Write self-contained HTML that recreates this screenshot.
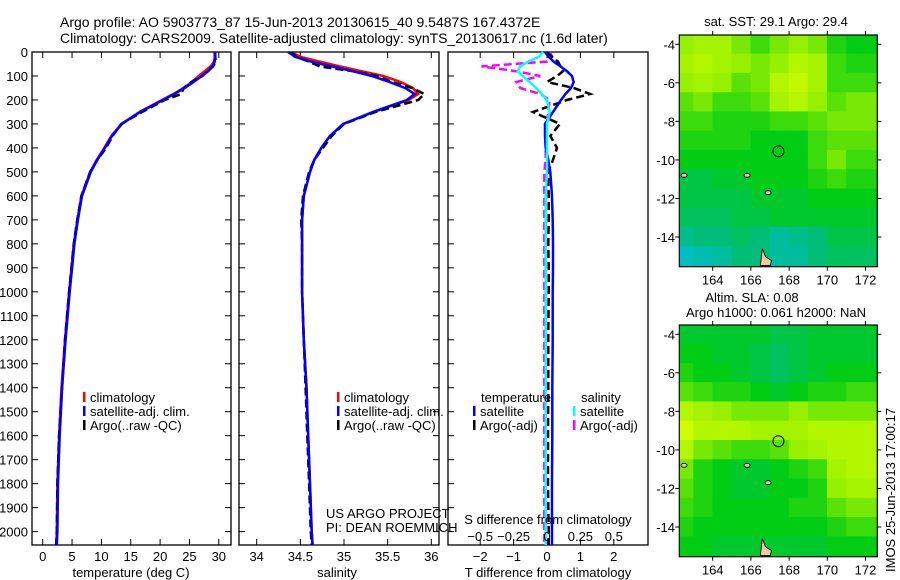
<!DOCTYPE html>
<html><head><meta charset="utf-8">
<style>
html,body{margin:0;padding:0;background:#fff;}
svg{display:block;font-family:"Liberation Sans",sans-serif;}
text{font-size:13px;fill:#000;}
</style></head>
<body>
<svg id="chart" width="900" height="580" viewBox="0 0 900 580" xmlns="http://www.w3.org/2000/svg">
<text x="60" y="27" style="font-size:14px">Argo profile: AO 5903773_87 15-Jun-2013 20130615_40 9.5487S 167.4372E</text>
<text x="60" y="43" style="font-size:14px">Climatology: CARS2009. Satellite-adjusted climatology: synTS_20130617.nc (1.6d later)</text>
<g id="g"></g>
</svg>
<script>
// ---------- profile data ----------
const depths = [0,20,40,60,80,100,125,150,175,200,250,300,350,400,450,500,600,700,800,900,1000,1200,1400,1600,1800,2000,2056];
const tempClim = [29.3,29.3,29.2,28.6,27.6,26.6,25.4,24.0,22.3,20.3,16.5,13.4,11.7,10.5,9.2,8.1,6.6,5.9,5.3,4.9,4.5,3.8,3.2,2.8,2.5,2.4,2.3];
const tempSat  = [29.4,29.4,29.3,29.0,28.2,27.1,25.7,24.2,22.4,20.5,16.6,13.5,11.8,10.6,9.3,8.2,6.7,6.0,5.4,5.0,4.6,3.9,3.3,2.9,2.6,2.5,2.4];
const tempArgo = [29.3,29.4,29.5,29.0,28.0,27.2,25.3,24.0,23.6,20.8,16.9,13.4,11.9,10.8,9.3,8.1,6.6,5.9,5.3,4.9,4.5,3.8,3.3,2.8,2.5,2.4,2.3];
const salClim = [34.39,34.50,34.72,34.95,35.20,35.45,35.65,35.79,35.85,35.74,35.34,35.00,34.84,34.74,34.66,34.61,34.54,34.52,34.52,34.52,34.52,34.54,34.57,34.59,34.61,34.63,34.64];
const salSat  = [34.36,34.44,34.62,34.86,35.10,35.32,35.52,35.70,35.81,35.72,35.33,34.99,34.84,34.74,34.66,34.61,34.54,34.52,34.52,34.52,34.52,34.54,34.57,34.59,34.61,34.63,34.64];
const salArgo = [34.40,34.45,34.60,34.72,35.10,35.38,35.55,35.78,35.92,35.85,35.36,35.00,34.86,34.76,34.66,34.60,34.53,34.51,34.52,34.52,34.52,34.54,34.56,34.58,34.60,34.62,34.63];
const tDiffSat  = [-0.06,0.05,0.2,0.4,0.6,0.75,0.8,0.72,0.55,0.42,0.18,-0.06,-0.06,-0.04,0.04,0.1,0.15,0.17,0.18,0.18,0.17,0.17,0.16,0.16,0.15,0.15,0.15];
const tDiffArgo = [0.0,0.15,0.33,0.4,0.48,0.3,0.0,0.8,1.29,0.6,-0.42,0.39,0.1,0.3,0.18,0.03,0.05,0.05,0.04,0.05,0.05,0.04,0.04,0.03,0.03,0.05,0.05];
const sDiffSat  = [-0.03,-0.06,-0.14,-0.2,-0.22,-0.18,-0.13,-0.08,-0.04,0.0,0.02,0.0,0.0,0.0,0.0,0.0,-0.01,-0.01,-0.01,-0.01,-0.01,-0.01,-0.01,-0.01,-0.01,-0.01,-0.01];
const sDiffArgo = [0.02,0.04,0.0,-0.49,-0.23,-0.05,-0.23,-0.2,-0.05,0.02,0.01,0.0,-0.01,-0.01,-0.01,-0.02,-0.02,-0.02,-0.02,-0.02,-0.02,-0.02,-0.02,-0.02,-0.02,-0.02,-0.02];
const depthTicks = [0,100,200,300,400,500,600,700,800,900,1000,1100,1200,1300,1400,1500,1600,1700,1800,1900,2000];
const tempTicks = [0,5,10,15,20,25,30];
const salTicks = [34,34.5,35,35.5,36];
const salTickLabels = ["34","34.5","35","35.5","36"];
const tdTicks = [-2,-1,0,1,2];
const sdTicks = [-0.5,-0.25,0,0.25,0.5];
const sdTickLabels = ["\u22120.5","\u22120.25","0","0.25","0.5"];
const tdTickLabels = ["\u22122","\u22121","0","1","2"];
// ---------- map data (rows: lat -4..-15, cols: lon 162.5..172.5) ----------
const mapLats = [-4,-5,-6,-7,-8,-9,-10,-11,-12,-13,-14,-15];
const mapLons = [162.5,163.5,164.5,165.5,166.5,167.5,168.5,169.5,170.5,171.5,172.5];
const sstGrid = [
[.75,.8,.8,.7,.6,.7,.75,.7,.55,.5,.5],
[.8,.85,.8,.75,.7,.75,.85,.8,.6,.55,.55],
[.75,.8,.75,.65,.7,.85,.9,.8,.6,.6,.6],
[.65,.7,.6,.6,.65,.8,.85,.75,.65,.7,.7],
[.6,.6,.55,.55,.55,.6,.6,.65,.7,.7,.7],
[.55,.55,.55,.55,.5,.5,.5,.6,.65,.65,.65],
[.5,.5,.5,.5,.5,.5,.5,.6,.7,.6,.6],
[.4,.4,.45,.45,.5,.5,.5,.55,.6,.55,.55],
[.4,.4,.4,.4,.45,.45,.45,.5,.5,.5,.5],
[.35,.35,.35,.4,.4,.45,.45,.45,.45,.45,.45],
[.25,.3,.3,.35,.3,.2,.25,.3,.4,.4,.4],
[.1,.15,.2,.3,.3,.2,.2,.3,.35,.35,.35]];
const slaGrid = [
[.45,.45,.45,.45,.45,.4,.4,.45,.45,.45,.45],
[.5,.5,.45,.45,.4,.35,.4,.45,.45,.45,.45],
[.55,.5,.5,.45,.4,.35,.4,.45,.5,.5,.5],
[.65,.6,.55,.55,.5,.45,.5,.55,.55,.6,.6],
[.85,.8,.75,.7,.7,.7,.75,.7,.7,.7,.7],
[.95,.85,.85,.85,.8,.8,.8,.85,.85,.85,.85],
[.85,.7,.65,.6,.6,.65,.75,.8,.85,.85,.85],
[.7,.55,.5,.45,.45,.5,.55,.6,.8,.85,.85],
[.65,.55,.5,.45,.45,.5,.5,.55,.75,.8,.8],
[.6,.55,.5,.5,.5,.5,.55,.55,.65,.7,.7],
[.55,.5,.5,.5,.5,.5,.5,.5,.55,.6,.6],
[.5,.5,.45,.45,.45,.45,.45,.45,.5,.5,.5]];
const latTicks = [-4,-6,-8,-10,-12,-14];
const lonTicks = [164,166,168,170,172];
const argoLon = 167.44, argoLat = -9.55;

const NS="http://www.w3.org/2000/svg";
const G=document.getElementById('g');
function mk(tag,attrs,parent){const e=document.createElementNS(NS,tag);for(const k in attrs)e.setAttribute(k,attrs[k]);(parent||G).appendChild(e);return e;}
function txt(x,y,s,anchor,parent,size){const t=mk('text',{x:x,y:y,'text-anchor':anchor||'start'},parent);if(size)t.style.fontSize=size+'px';t.textContent=s;return t;}

const yD = d => 52 + d*0.2398;
const PB = 545;
const xT = v => 42.7 + v*5.87;
const xS = v => 256.7 + (v-34)*87.3;
const xTD = v => 547 + v*33.4;
const xSD = v => 547 + v*133.6;

function panel(name,x0,x1){
  const g=mk('g',{});
  
  
  const r=mk('rect',{x:x0,y:52,width:x1-x0,height:PB-52,fill:'none',stroke:'#000','stroke-width':1.3},g);
  
  
  return g;
}
function line(parent,xs,vals,fx,color,dash,name){
  let d='';vals.forEach((v,i)=>{d+=(i?'L':'M')+fx(v).toFixed(1)+','+yD(xs[i]).toFixed(1);});
  const p=mk('path',{d:d,fill:'none',stroke:color,'stroke-width':2.5},parent);
  if(dash)p.setAttribute('stroke-dasharray',dash);
  
  
}
function legend(parent,x,y,color,label,name){
  const r=mk('rect',{x:x,y:y-10,width:2.5,height:10,fill:color},parent);
  
  
  const t=txt(x+7,y,label,'start',parent);
  
  
}

const p1=panel('temperature-panel',32,231);
depthTicks.forEach(d=>{
  mk('line',{x1:32,x2:38,y1:yD(d),y2:yD(d),stroke:'#000'},p1);
  mk('line',{x1:225,x2:231,y1:yD(d),y2:yD(d),stroke:'#000'},p1);
  const t=txt(28,yD(d)+5,String(d),'end',p1);
  
  
});
tempTicks.forEach(v=>{
  mk('line',{x1:xT(v),x2:xT(v),y1:PB,y2:PB-6,stroke:'#000'},p1);
  mk('line',{x1:xT(v),x2:xT(v),y1:52,y2:58,stroke:'#000'},p1);
  const t=txt(xT(v),561,String(v),'middle',p1);
  
  
});
let t1=txt(131,577,'temperature (deg C)','middle',p1);


line(p1,depths,tempClim,xT,'#ff0000',null,'temperature-climatology-line');
line(p1,depths,tempArgo,xT,'#000000','8 4','temperature-argo-line');
line(p1,depths,tempSat,xT,'#0000ff',null,'temperature-satellite-line');
legend(p1,83,402,'#ff0000','climatology','legend-climatology');
legend(p1,83,416,'#0000ff','satellite-adj. clim.','legend-satellite');
legend(p1,83,430,'#000000','Argo(..raw -QC)','legend-argo');

const p2=panel('salinity-panel',239,439);
depthTicks.forEach(d=>{
  mk('line',{x1:239,x2:245,y1:yD(d),y2:yD(d),stroke:'#000'},p2);
  mk('line',{x1:433,x2:439,y1:yD(d),y2:yD(d),stroke:'#000'},p2);
});
salTicks.forEach((v,i)=>{
  mk('line',{x1:xS(v),x2:xS(v),y1:PB,y2:PB-6,stroke:'#000'},p2);
  mk('line',{x1:xS(v),x2:xS(v),y1:52,y2:58,stroke:'#000'},p2);
  const t=txt(xS(v),561,salTickLabels[i],'middle',p2);
  
  
});
let t2=txt(337,577,'salinity','middle',p2);


line(p2,depths,salClim,xS,'#ff0000',null,'salinity-climatology-line');
line(p2,depths,salArgo,xS,'#000000','8 4','salinity-argo-line');
line(p2,depths,salSat,xS,'#0000ff',null,'salinity-satellite-line');
legend(p2,337,402,'#ff0000','climatology','legend-climatology-2');
legend(p2,337,416,'#0000ff','satellite-adj. clim.','legend-satellite-2');
legend(p2,337,430,'#000000','Argo(..raw -QC)','legend-argo-2');
let c1=txt(326,518,'US ARGO PROJECT','start',p2);


let c2=txt(326,532,'PI: DEAN ROEMMICH','start',p2);



const p3=panel('difference-panel',448,648);
depthTicks.forEach(d=>{
  mk('line',{x1:448,x2:454,y1:yD(d),y2:yD(d),stroke:'#000'},p3);
});
tdTicks.forEach((v,i)=>{
  mk('line',{x1:xTD(v),x2:xTD(v),y1:PB,y2:PB-6,stroke:'#000'},p3);
  mk('line',{x1:xTD(v),x2:xTD(v),y1:52,y2:58,stroke:'#000'},p3);
  const t=txt(xTD(v),561,tdTickLabels[i],'middle',p3);
  
  
});
line(p3,depths,sDiffArgo,xSD,'#ff00ff','8 4','salinity-argo-difference-line');
line(p3,depths,tDiffArgo,xTD,'#000000','8 4','temperature-argo-difference-line');
line(p3,depths,tDiffSat,xTD,'#0000ff',null,'temperature-satellite-difference-line');
line(p3,depths,sDiffSat,xSD,'#00ffff',null,'salinity-satellite-difference-line');
sdTicks.forEach((v,i)=>{
  const t=txt(xSD(v),541,sdTickLabels[i],'middle',p3);
  
  
});
let t3=txt(548,524,'S difference from climatology','middle',p3);


let t4=txt(548,577,'T difference from climatology','middle',p3);


let lt=txt(481,402,'temperature','start',p3);


let ls=txt(581,402,'salinity','start',p3);


legend(p3,473,416,'#0000ff','satellite','legend-t-satellite');
legend(p3,473,430,'#000000','Argo(-adj)','legend-t-argo');
legend(p3,573,416,'#00ffff','satellite','legend-s-satellite');
legend(p3,573,430,'#ff00ff','Argo(-adj)','legend-s-argo');

const MX0=679.3, MX1=877.3;
const lonX = lon => 712.7 + (lon-164)*19.1;
function cmap(v){
  const stops=[[0,[0,190,230]],[0.3,[0,190,120]],[0.5,[0,205,20]],[0.75,[150,240,0]],[1,[220,255,0]]];
  for(let i=1;i<stops.length;i++){ if(v<=stops[i][0]){const a=stops[i-1],b=stops[i];const f=(v-a[0])/(b[0]-a[0]);
    return 'rgb('+a[1].map((c,j)=>Math.round(c+(b[1][j]-c)*f)).join(',')+')';}}
  return 'rgb(220,255,0)';
}
function drawMap(name,top,grid,titles){
  const latY = lat => top + 9.3 + (-4-lat)*19.27;
  const bottom = top+231.7;
  const g=mk('g',{});
  
  
  const cid='clip-'+name;
  const cp=mk('clipPath',{id:cid},g);
  mk('rect',{x:MX0,y:top,width:MX1-MX0,height:bottom-top},cp);
  const cells=mk('g',{'clip-path':'url(#'+cid+')'},g);
  grid.forEach((row,r)=>row.forEach((v,c)=>{
    const lon=mapLons[c], lat=mapLats[r];
    const x0=lonX(lon-0.5), x1=lonX(lon+0.5);
    const y0=latY(lat+0.5), y1=latY(lat-0.5);
    const rc=mk('rect',{x:x0-0.3,y:y0-0.3,width:x1-x0+0.6,height:y1-y0+0.6,fill:cmap(v)},cells);
    
    
  }));
  const isl=mk('path',{d:'M'+lonX(166.6)+','+latY(-14.6)+' l3,8 l6,4 l-1,5 l-10,0 z',fill:'#f5c8a0',stroke:'#000','stroke-width':0.8},cells);
  
  
  [[165.8,-10.8],[166.9,-11.7],[162.5,-10.8]].forEach(p=>{
    const e=mk('ellipse',{cx:lonX(p[0]),cy:latY(p[1]),rx:3,ry:2,fill:'#f5c8a0',stroke:'#000','stroke-width':0.8},cells);
    
    
  });
  const fr=mk('rect',{x:MX0,y:top,width:MX1-MX0,height:bottom-top,fill:'none',stroke:'#000','stroke-width':1.2},g);
  
  
  const ci=mk('circle',{cx:lonX(argoLon),cy:latY(argoLat),r:5.5,fill:'none',stroke:'#000','stroke-width':1},g);
  
  
  latTicks.forEach(l=>{
    mk('line',{x1:MX0,x2:MX0-4,y1:latY(l),y2:latY(l),stroke:'#000'},g);
    mk('line',{x1:MX1,x2:MX1+4,y1:latY(l),y2:latY(l),stroke:'#000'},g);
    const t=txt(675,latY(l)+5,String(l),'end',g);
    
    
  });
  lonTicks.forEach(l=>{
    mk('line',{x1:lonX(l),x2:lonX(l),y1:top,y2:top-4,stroke:'#000'},g);
    mk('line',{x1:lonX(l),x2:lonX(l),y1:bottom,y2:bottom+4,stroke:'#000'},g);
    const t=txt(lonX(l),bottom+18,String(l),'middle',g);
    
    
  });
  titles.forEach(s=>{
    const t=txt(s[1],s[2],s[0],'middle',g);
    
    
  });
}
drawMap('sst-map',35,sstGrid,[['sat. SST: 29.1  Argo: 29.4',776,26]]);
drawMap('sla-map',325,slaGrid,[['Altim. SLA: 0.08',752,302],['Argo h1000: 0.061 h2000: NaN',776,317]]);
const st=txt(0,0,'IMOS 25-Jun-2013 17:00:17','start');
st.setAttribute('transform','translate(895,572) rotate(-90)');


</script>
</body></html>
